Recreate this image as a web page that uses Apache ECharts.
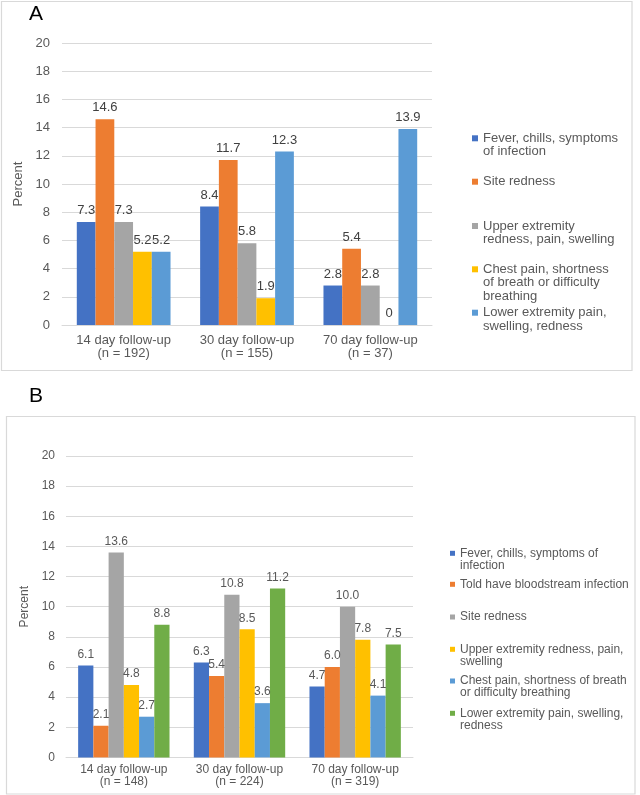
<!DOCTYPE html>
<html>
<head>
<meta charset="utf-8">
<script src="https://cdn.jsdelivr.net/npm/echarts@6/dist/echarts.min.js"></script>
<style>
html,body{margin:0;padding:0;background:#ffffff;}
#chartA{position:absolute;left:0;top:0;width:640px;height:380px;}
#chartB{position:absolute;left:0;top:380px;width:640px;height:415px;}
</style>
</head>
<body>
<div id="chartA"></div>
<div id="chartB"></div>
<script>
// ---------- Panel A data ----------
const categoriesA = ['14 day follow-up\n(n = 192)', '30 day follow-up\n(n = 155)', '70 day follow-up\n(n = 37)'];
const seriesNamesA = [
  'Fever, chills, symptoms of infection',
  'Site redness',
  'Upper extremity redness, pain, swelling',
  'Chest pain, shortness of breath or difficulty breathing',
  'Lower extremity pain, swelling, redness'
];
const legendTextA = [
  'Fever, chills, symptoms\nof infection',
  'Site redness',
  'Upper extremity\nredness, pain, swelling',
  'Chest pain, shortness\nof breath or difficulty\nbreathing',
  'Lower extremity pain,\nswelling, redness'
];
const feverA = [7.3, 8.4, 2.8];
const siteRednessA = [14.6, 11.7, 5.4];
const upperExtremityA = [7.3, 5.8, 2.8];
const chestPainA = [5.2, 1.9, 0];
const lowerExtremityA = [5.2, 12.3, 13.9];

// ---------- Panel B data ----------
const categoriesB = ['14 day follow-up\n(n = 148)', '30 day follow-up\n(n = 224)', '70 day follow-up\n(n = 319)'];
const seriesNamesB = [
  'Fever, chills, symptoms of infection',
  'Told have bloodstream infection',
  'Site redness',
  'Upper extremity redness, pain, swelling',
  'Chest pain, shortness of breath or difficulty breathing',
  'Lower extremity pain, swelling, redness'
];
const legendTextB = [
  'Fever, chills, symptoms of\ninfection',
  'Told have bloodstream infection',
  'Site redness',
  'Upper extremity redness, pain,\nswelling',
  'Chest pain, shortness of breath\nor difficulty breathing',
  'Lower extremity pain, swelling,\nredness'
];
const feverB = [6.1, 6.3, 4.7];
const bloodstreamB = [2.1, 5.4, 6.0];
const siteRednessB = [13.6, 10.8, 10.0];
const upperExtremityB = [4.8, 8.5, 7.8];
const chestPainB = [2.7, 3.6, 4.1];
const lowerExtremityB = [8.8, 11.2, 7.5];

// axis ticks
const yMin = 0, yMax = 20, yStep = 2;

// ---------- styling ----------
const FONT = "'Liberation Sans', Arial, Helvetica, sans-serif";
const colorsA = ['#4472C4', '#ED7D31', '#A5A5A5', '#FFC000', '#5B9BD5'];
const colorsB = ['#4472C4', '#ED7D31', '#A5A5A5', '#FFC000', '#5B9BD5', '#70AD47'];
const GRID_COLOR = '#D9D9D9';
const TEXT_COLOR = '#595959';

function buildLegends(names, texts, centers, left, size, lineH, fontSize) {
  return names.map(function (name, i) {
    const n = texts[i].split('\n').length;
    const h = size + (n - 1) * lineH;
    return {
      data: [name],
      orient: 'vertical',
      left: left,
      top: centers[i] - lineH / 2,
      padding: 0,
      itemWidth: size,
      itemHeight: h,
      icon: 'path://M0,0H' + size + 'V' + size + 'H0Z M0,' + h,
      selectedMode: false,
      formatter: function () { return texts[i]; },
      textStyle: { fontSize: fontSize, lineHeight: lineH, color: TEXT_COLOR, fontFamily: FONT }
    };
  });
}

// ---------- Chart A ----------
const dataA = [feverA, siteRednessA, upperExtremityA, chestPainA, lowerExtremityA];
const chartA = echarts.init(document.getElementById('chartA'), null, { renderer: 'canvas' });
chartA.setOption({
  backgroundColor: '#ffffff',
  animation: false,
  textStyle: { fontFamily: FONT },
  title: {
    text: 'A', left: 29, top: 4, padding: 0,
    textStyle: { fontSize: 21, fontWeight: 'normal', color: '#000000', fontFamily: FONT }
  },
  graphic: [{
    type: 'rect', silent: true,
    shape: { x: 1.5, y: 1.5, width: 630.5, height: 369 },
    style: { fill: 'none', stroke: GRID_COLOR, lineWidth: 1.2 }
  }],
  grid: { left: 62, right: 208, top: 43, bottom: 55, containLabel: false, outerBoundsMode: 'none' },
  xAxis: {
    type: 'category',
    data: categoriesA,
    axisTick: { show: false },
    axisLine: { lineStyle: { color: GRID_COLOR, width: 1 } },
    axisLabel: { fontSize: 13, lineHeight: 13, color: TEXT_COLOR, margin: 9, fontFamily: FONT, interval: 0 }
  },
  yAxis: {
    type: 'value', min: yMin, max: yMax, interval: yStep,
    name: 'Percent', nameLocation: 'middle', nameRotate: 90, nameGap: 25,
    nameTextStyle: { fontSize: 13, color: TEXT_COLOR, fontFamily: FONT },
    axisLine: { show: false },
    axisTick: { show: false },
    axisLabel: { fontSize: 13, color: TEXT_COLOR, margin: 12, fontFamily: FONT },
    splitLine: { lineStyle: { color: GRID_COLOR, width: 1 } }
  },
  legend: buildLegends(seriesNamesA, legendTextA, [138.3, 181.7, 226, 269.3, 312.7], 472, 6, 13.4, 13),
  series: seriesNamesA.map(function (name, i) {
    return {
      type: 'bar', name: name, data: dataA[i],
      barGap: '0%', barCategoryGap: '24%',
      itemStyle: { color: colorsA[i] },
      label: { show: true, position: 'top', distance: 5, fontSize: 13, color: '#404040', fontFamily: FONT }
    };
  })
});

// ---------- Chart B ----------
const dataB = [feverB, bloodstreamB, siteRednessB, upperExtremityB, chestPainB, lowerExtremityB];
const chartB = echarts.init(document.getElementById('chartB'), null, { renderer: 'canvas' });
chartB.setOption({
  backgroundColor: '#ffffff',
  animation: false,
  textStyle: { fontFamily: FONT },
  title: {
    text: 'B', left: 29, top: 6, padding: 0,
    textStyle: { fontSize: 21, fontWeight: 'normal', color: '#000000', fontFamily: FONT }
  },
  graphic: [{
    type: 'rect', silent: true,
    shape: { x: 6.5, y: 36.5, width: 628.5, height: 377.5 },
    style: { fill: 'none', stroke: GRID_COLOR, lineWidth: 1.2 }
  }],
  grid: { left: 66, right: 227, top: 76, bottom: 37.6, containLabel: false, outerBoundsMode: 'none' },
  xAxis: {
    type: 'category',
    data: categoriesB,
    axisTick: { show: false },
    axisLine: { lineStyle: { color: GRID_COLOR, width: 1 } },
    axisLabel: { fontSize: 12, lineHeight: 12, color: TEXT_COLOR, margin: 6, fontFamily: FONT, interval: 0 }
  },
  yAxis: {
    type: 'value', min: yMin, max: yMax, interval: yStep,
    name: 'Percent', nameLocation: 'middle', nameRotate: 90, nameGap: 22,
    nameTextStyle: { fontSize: 12, color: TEXT_COLOR, fontFamily: FONT },
    axisLine: { show: false },
    axisTick: { show: false },
    axisLabel: { fontSize: 12, color: TEXT_COLOR, margin: 11, fontFamily: FONT },
    splitLine: { lineStyle: { color: GRID_COLOR, width: 1 } }
  },
  legend: buildLegends(seriesNamesB, legendTextB, [173.3, 204.3, 237, 269.3, 301, 333.3], 450, 5, 12, 12),
  series: seriesNamesB.map(function (name, i) {
    return {
      type: 'bar', name: name, data: dataB[i],
      barGap: '0%', barCategoryGap: '21%',
      itemStyle: { color: colorsB[i] },
      label: {
        show: true, position: 'top', distance: 5, fontSize: 12, color: TEXT_COLOR, fontFamily: FONT,
        formatter: function (p) { return Number(p.value).toFixed(1); }
      }
    };
  })
});
</script>
</body>
</html>
